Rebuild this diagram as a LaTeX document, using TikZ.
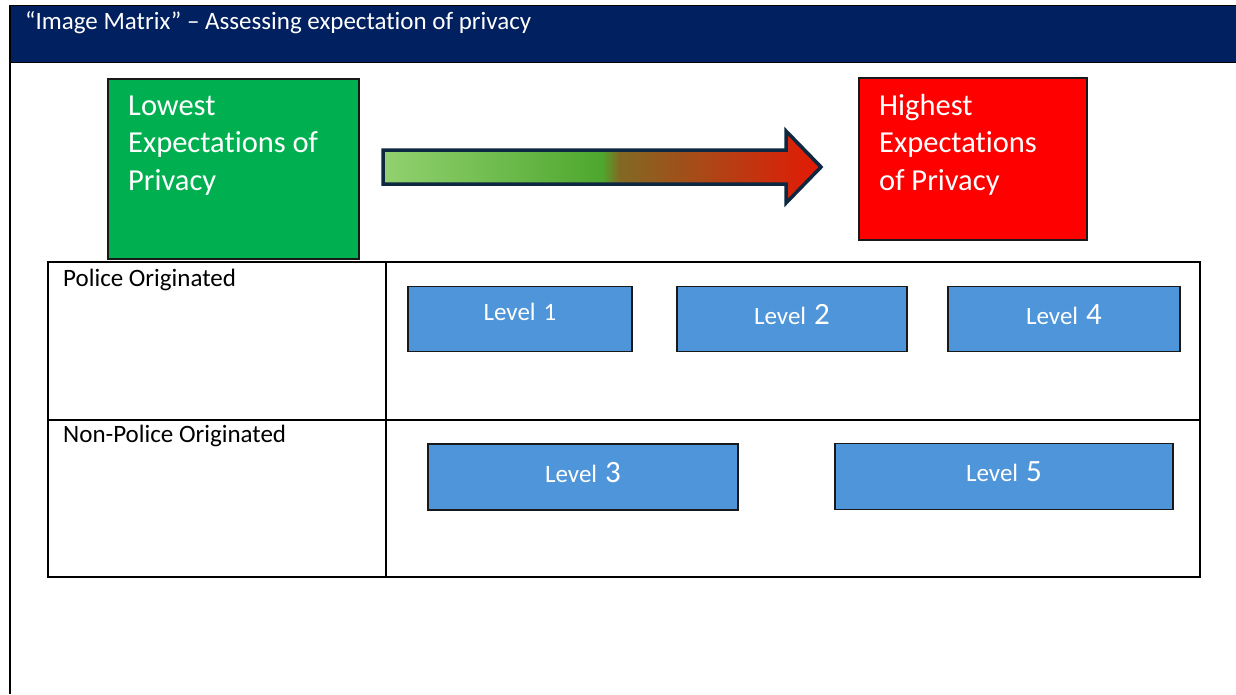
\documentclass[tikz,border=0pt]{standalone}
\usepackage{fontspec}
\setmainfont[Ligatures=NoCommon]{Carlito}
\usetikzlibrary{calc}
\definecolor{navy}{RGB}{0,32,96}
\definecolor{lowgreen}{RGB}{0,176,80}
\definecolor{highred}{RGB}{255,0,0}
\definecolor{levelblue}{RGB}{78,149,217}
\definecolor{arrowline}{RGB}{14,40,65}
\definecolor{gA}{RGB}{146,210,112}
\definecolor{gB}{RGB}{78,167,46}
\definecolor{gC}{RGB}{130,105,35}
\definecolor{gD}{RGB}{228,25,5}
\pgfdeclarehorizontalshading{privgrad}{100bp}{color(0bp)=(gA); color(25bp)=(gA); color(50bp)=(gB); color(52bp)=(gC); color(75bp)=(gD); color(100bp)=(gD)}
\begin{document}
\begin{tikzpicture}[x=1pt,y=-1pt,
  bigbox/.style={draw=black!90, line width=1.6pt, inner sep=0pt, anchor=north west},
  bigtext/.style={text=white, align=left, anchor=base west, inner sep=0pt, font=\fontsize{30.5}{37.5}\selectfont},
  rowlabel/.style={anchor=base west, inner sep=0pt, font=\fontsize{25}{28}\selectfont},
  levelbox/.style={draw=black!90, line width=1.5pt, fill=levelblue, text=white, inner sep=0pt,
    font=\fontsize{25}{28}\selectfont, text height=16pt, text depth=6pt},
  grid/.style={line width=1.5pt}
]
\useasboundingbox (0,0) rectangle (1236,694);
\fill[white] (0,0) rectangle (1236,694);
% header
\fill[navy] (10,6) rectangle (1236,62);
\draw[line width=1.6pt] (10,5.5) -- (1236,5.5);
\draw[line width=1.6pt] (10,62.5) -- (1236,62.5);
\draw[line width=1.3pt] (10,5) -- (10,694);
\node[anchor=base west, inner sep=0pt, text=white, font=\fontsize{25}{28}\selectfont] (title) at (25,29) {“Image Matrix” – Assessing expectation of privacy};
% boxes
\node[bigbox, fill=lowgreen, minimum width=251pt, minimum height=180pt] (low) at (107,78) {};
\node[bigtext] (lowtext) at (128,190) {Lowest\\Expectations of\\Privacy};
\node[bigbox, fill=highred, minimum width=228pt, minimum height=162pt] (high) at (858,77) {};
\node[bigtext] (hightext) at (879,190) {Highest\\Expectations\\of Privacy};
% arrow
\shadedraw[shading=privgrad, draw=arrowline, line width=3.5pt, line join=miter]
  (383,150) -- (786,150) -- (786,131) -- (821,167) -- (786,203) -- (786,184) -- (383,184) -- cycle;
% table
\draw[grid] (48,262) rectangle (1200,577);
\draw[grid] (386,262) -- (386,577);
\draw[grid] (48,420) -- (1200,420);
\node[rowlabel] (pol) at (63,286) {Police Originated};
\node[rowlabel] (npol) at (63,442) {Non-Police Originated};
% levels
\node[levelbox, minimum width=224pt, minimum height=65pt, text depth=14pt] (l1) at (520,319) {Level\hspace{8pt}1};
\node[levelbox, minimum width=230pt, minimum height=65pt] (l2) at (792,319) {Level\hspace{8pt}{\fontsize{31}{31}\selectfont 2}};
\node[levelbox, minimum width=232pt, minimum height=65pt] (l4) at (1064,319) {Level\hspace{8pt}{\fontsize{31}{31}\selectfont 4}};
\node[levelbox, minimum width=310pt, minimum height=66pt] (l3) at (583,477) {Level\hspace{8pt}{\fontsize{31}{31}\selectfont 3}};
\node[levelbox, minimum width=338pt, minimum height=66pt] (l5) at (1004,476.5) {Level\hspace{8pt}{\fontsize{31}{31}\selectfont 5}};
\end{tikzpicture}
\end{document}
